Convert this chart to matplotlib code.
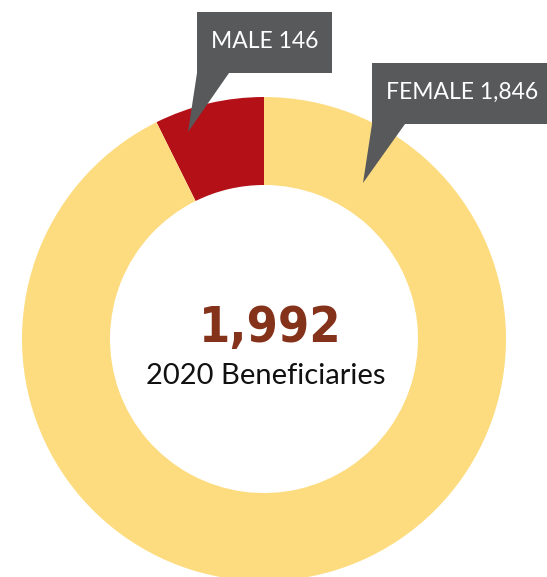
import matplotlib.pyplot as plt
from matplotlib.patches import Polygon

labels = ["MALE", "FEMALE"]
counts = [146, 1846]
colors = ["#B31017", "#FDDC80"]
total_label = "1,992"
subtitle = "2020 Beneficiaries"

W, H = 547, 577
fig = plt.figure(figsize=(W / 100, H / 100), dpi=100)
ax = fig.add_axes([0, 0, 1, 1])

cx, cy, r = 264, H - 339, 242
ax.pie(counts, colors=colors, startangle=90, counterclock=True,
       radius=r, center=(cx, cy), frame=True,
       wedgeprops=dict(width=88, linewidth=0))

ax.set_xlim(0, W)
ax.set_ylim(0, H)
ax.set_aspect("equal")
ax.axis("off")

# callouts: box (x0, x1, top, bottom), pointer base (x0, x1), tip
callouts = [
    ((197, 332, 12, 73), (197, 229), (188, 132)),
    ((372, 560, 63, 124), (372, 405), (363, 183)),
]
gray = "#58595B"
for (lab, n), ((x0, x1, t, b), (p0, p1), tip) in zip(zip(labels, counts), callouts):
    pts = [(x0, H - t), (x1, H - t), (x1, H - b), (p1, H - b), (tip[0], H - tip[1]), (p0, H - b), (x0, H - b)]
    ax.add_patch(Polygon(pts, closed=True, facecolor=gray, edgecolor="none", zorder=3))
    ax.text(x0 + 14, H - (t + b) / 2 + 1, f"{lab} {n:,}", color="white", fontsize=16.5,
            family="Lato", ha="left", va="center", zorder=4)

ax.text(270, H - 342, total_label, color="#85321A", fontsize=36, fontweight="heavy",
        family="DejaVu Sans", fontstretch="condensed", ha="center", va="baseline")
ax.text(266, H - 384, subtitle, color="#111111", fontsize=21, family="Lato",
        ha="center", va="baseline")

fig.savefig("out.png", dpi=100)
